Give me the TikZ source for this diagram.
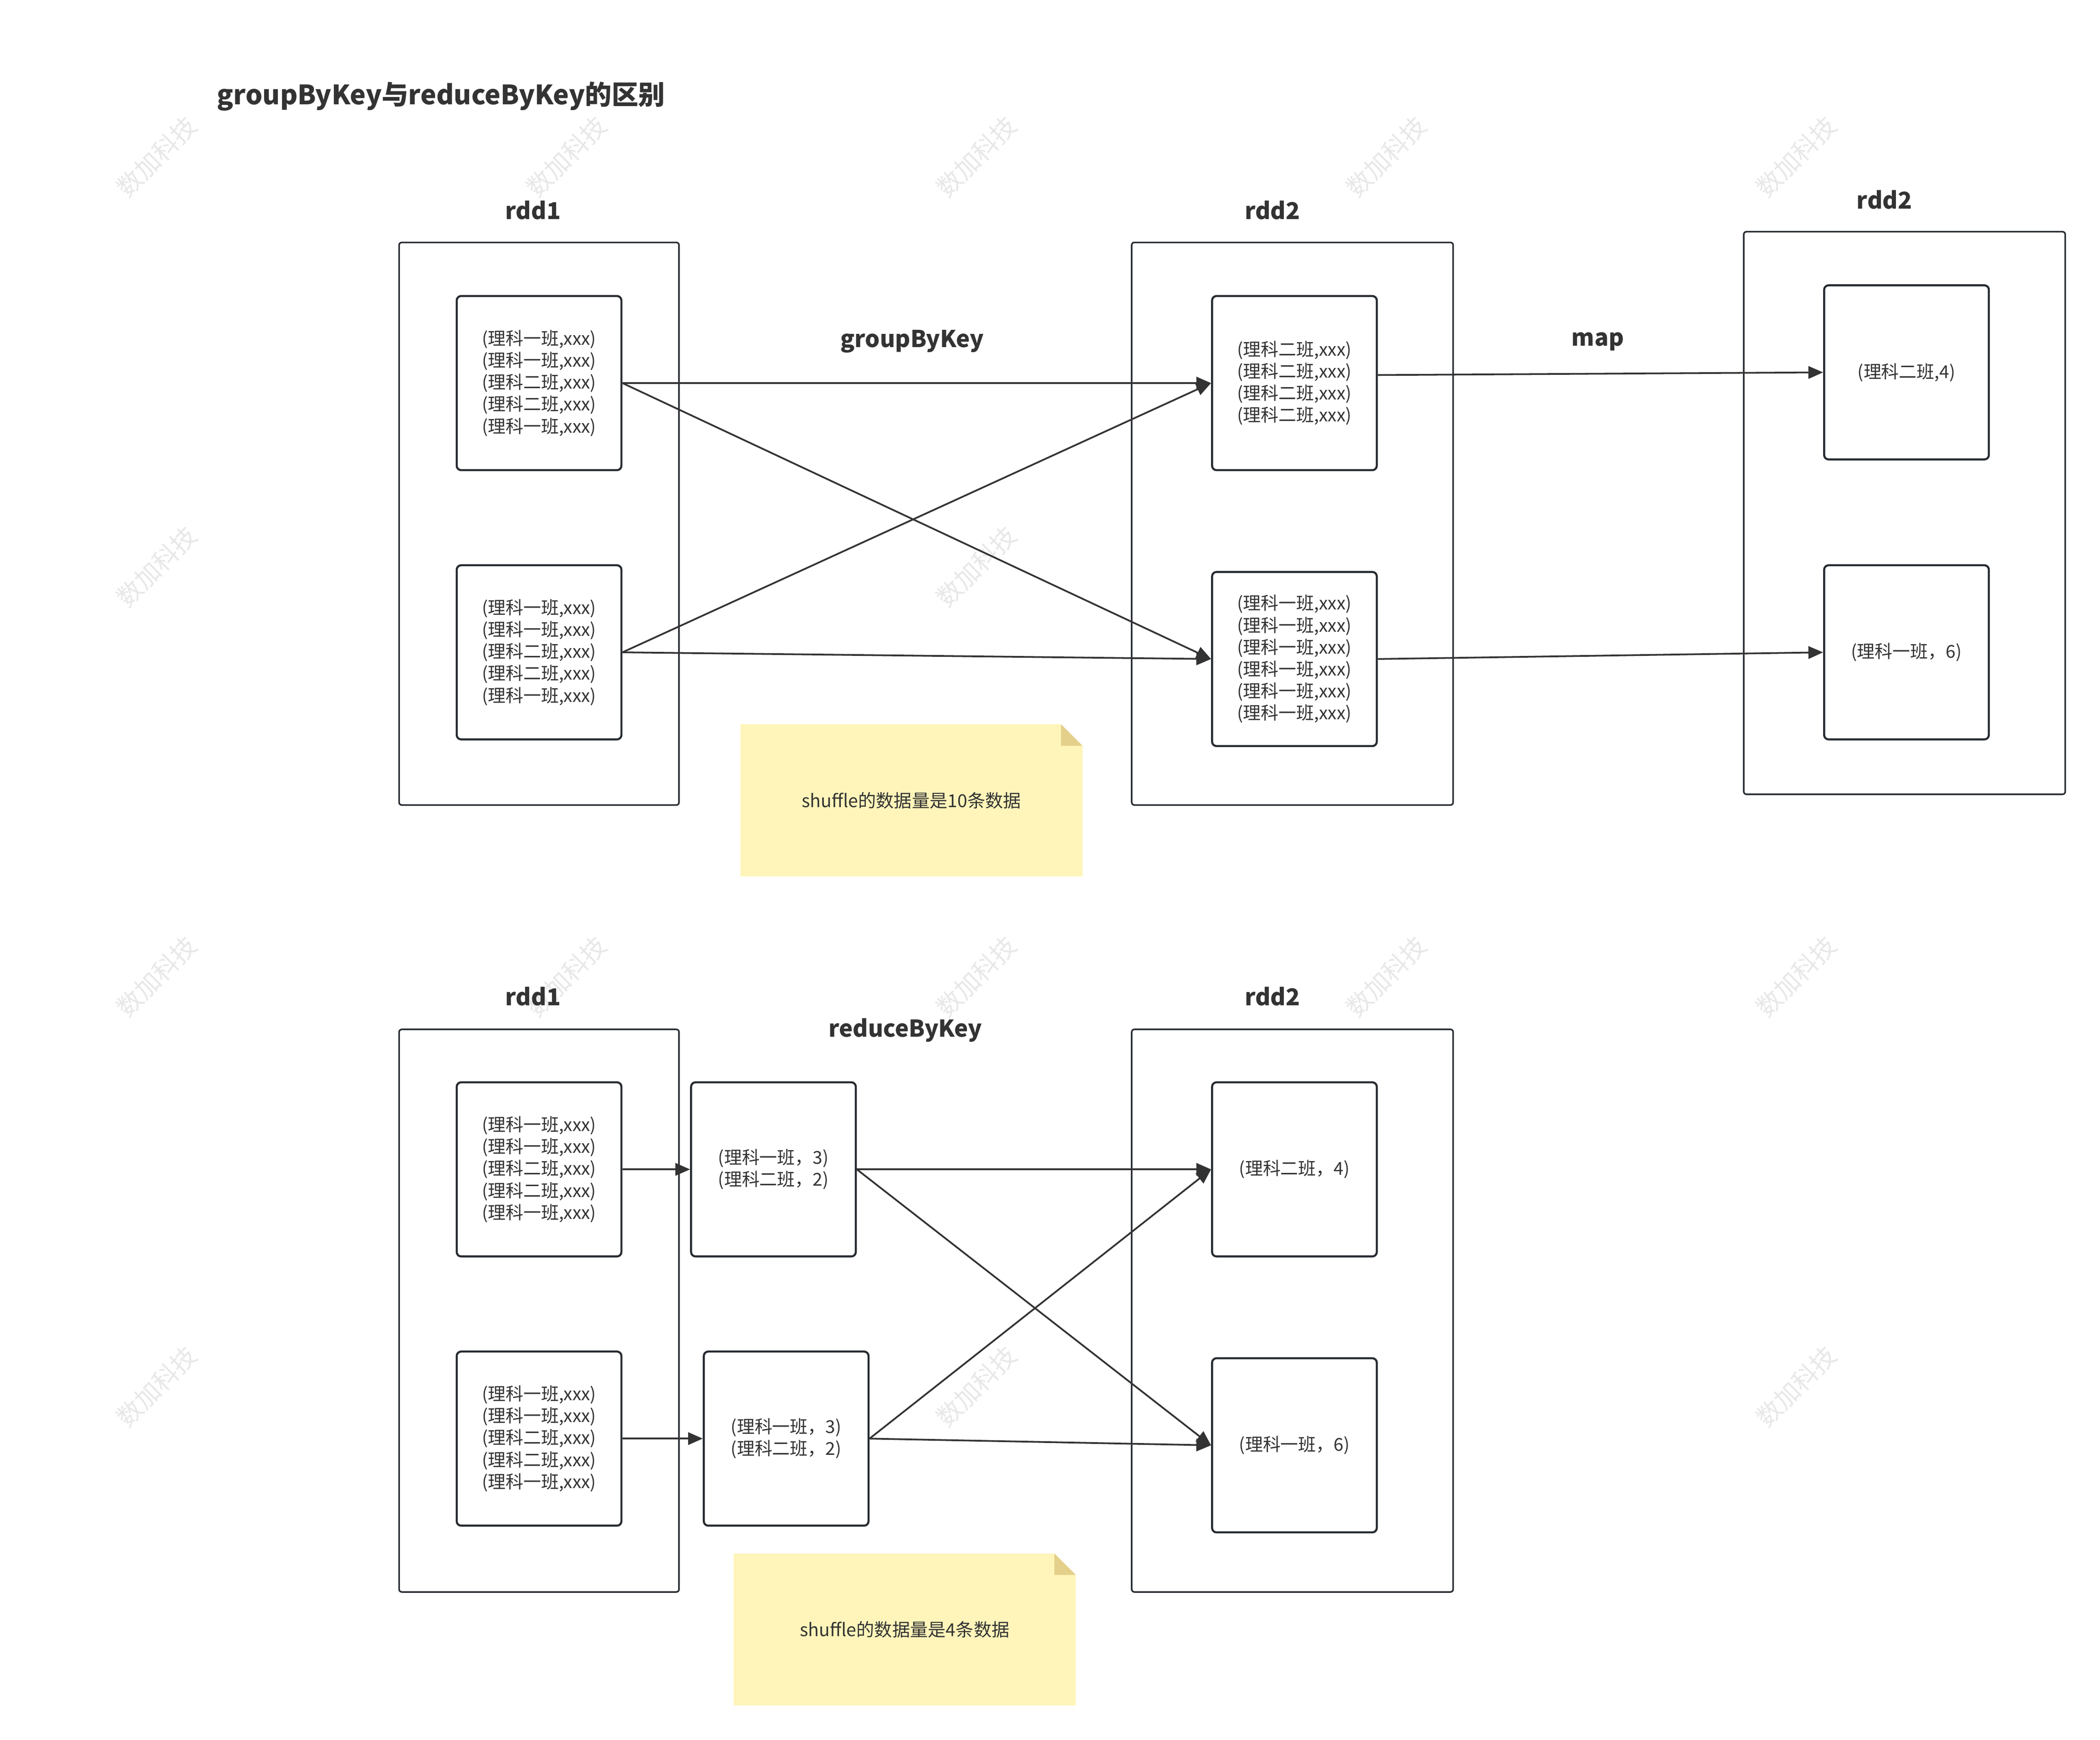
\documentclass[tikz,border=0pt]{standalone}
\usepackage{fontspec}
\setmainfont{Noto Sans CJK SC}
\usetikzlibrary{arrows.meta,backgrounds}
\definecolor{boxline}{HTML}{262B31}
\definecolor{inkgray}{HTML}{333333}
\definecolor{notefill}{HTML}{FFF5BA}
\definecolor{notefold}{HTML}{E4D08B}
\definecolor{wmgray}{HTML}{E8E8E8}
\begin{document}
\begin{tikzpicture}[x=0.3mm, y=-0.3mm,
  wmark/.style={rotate=45, text=wmgray, font=\fontsize{16}{16}\selectfont},
  outerbox/.style={draw=boxline, line width=1pt, rounded corners=0.6mm, fill=white, inner sep=0, minimum width=#1*0.3mm, minimum height=420*0.3mm},
  innerbox/.style={draw=boxline, line width=1.3pt, rounded corners=1mm, fill=white, inner sep=0, minimum width=123*0.3mm, minimum height=130*0.3mm, align=center, text=inkgray, font=\fontsize{11.3}{14}\selectfont},
  heading/.style={text=inkgray, font=\bfseries\fontsize{14.8}{18}\selectfont},
  notebox/.style={inner sep=0, minimum width=255*0.3mm, minimum height=113*0.3mm, text=inkgray, font=\fontsize{11.4}{14}\selectfont},
  arr/.style={draw=inkgray, line width=1.1pt, -{Triangle[length=3.3mm, width=2.8mm]}}]
\useasboundingbox (0,0) rectangle (1568,1299);
% watermark
\node[wmark] (wm1) at (117,117){数加科技};
\node[wmark] (wm2) at (423,117){数加科技};
\node[wmark] (wm3) at (729,117){数加科技};
\node[wmark] (wm4) at (1035,117){数加科技};
\node[wmark] (wm5) at (1341,117){数加科技};
\node[wmark] (wm6) at (117,423){数加科技};
\node[wmark] (wm7) at (729,423){数加科技};
\node[wmark] (wm8) at (117,729){数加科技};
\node[wmark] (wm9) at (423,729){数加科技};
\node[wmark] (wm10) at (729,729){数加科技};
\node[wmark] (wm11) at (1035,729){数加科技};
\node[wmark] (wm12) at (1341,729){数加科技};
\node[wmark] (wm13) at (117,1035){数加科技};
\node[wmark] (wm14) at (729,1035){数加科技};
\node[wmark] (wm15) at (1341,1035){数加科技};
\node[anchor=west, text=inkgray, font=\bfseries\fontsize{17}{21}\selectfont] (title) at (158,72){groupByKey与reduceByKey的区别};
% groupByKey
\node[heading] (gkl1) at (398,157){rdd1};
\node[heading] (gkl2) at (950,157){rdd2};
\node[heading] (gkl3) at (1407,149){rdd2};
\node[heading] (gkop1) at (681,255){groupByKey};
\node[heading] (gkop2) at (1193,255){map};
\node[outerbox=209] (gkrdd1) at (402.5,391){};
\node[outerbox=240] (gkrdd2) at (965,391){};
\node[outerbox=240] (gkrdd3) at (1422,383){};
\node[innerbox] (gkin1) at (402.5,286){(理科一班,xxx)\\(理科一班,xxx)\\(理科二班,xxx)\\(理科二班,xxx)\\(理科一班,xxx)};
\node[innerbox] (gkin2) at (402.5,487){(理科一班,xxx)\\(理科一班,xxx)\\(理科二班,xxx)\\(理科二班,xxx)\\(理科一班,xxx)};
\node[innerbox] (gkout1) at (966.5,286){(理科二班,xxx)\\(理科二班,xxx)\\(理科二班,xxx)\\(理科二班,xxx)};
\node[innerbox] (gkout2) at (966.5,492){(理科一班,xxx)\\(理科一班,xxx)\\(理科一班,xxx)\\(理科一班,xxx)\\(理科一班,xxx)\\(理科一班,xxx)};
\node[innerbox] (gkmap1) at (1423.5,278){(理科二班,4)};
\node[innerbox] (gkmap2) at (1423.5,487){(理科一班，6)};
\draw[arr](gkin1.east) -- (gkout1.west);
\draw[arr](gkin1.east) -- (gkout2.west);
\draw[arr](gkin2.east) -- (gkout1.west);
\draw[arr](gkin2.east) -- (gkout2.west);
\draw[arr]([yshift=1.8mm]gkout1.east) -- (gkmap1.west);
\draw[arr](gkout2.east) -- (gkmap2.west);
\node[notebox] (gknote) at (680.5,597.5){shuffle的数据量是10条数据};
% reduceByKey
\node[heading] (rkl1) at (398,744){rdd1};
\node[heading] (rkl2) at (950,744){rdd2};
\node[heading] (rkop1) at (676,769){reduceByKey};
\node[outerbox=209] (rkrdd1) at (402.5,978.5){};
\node[outerbox=240] (rkrdd2) at (965,978.5){};
\node[innerbox] (rkin1) at (402.5,873){(理科一班,xxx)\\(理科一班,xxx)\\(理科二班,xxx)\\(理科二班,xxx)\\(理科一班,xxx)};
\node[innerbox] (rkin2) at (402.5,1074){(理科一班,xxx)\\(理科一班,xxx)\\(理科二班,xxx)\\(理科二班,xxx)\\(理科一班,xxx)};
\node[innerbox] (rkcomb1) at (577.5,873){(理科一班，3)\\(理科二班，2)};
\node[innerbox] (rkcomb2) at (587,1074){(理科一班，3)\\(理科二班，2)};
\node[innerbox] (rkout1) at (966.5,873){(理科二班，4)};
\node[innerbox] (rkout2) at (966.5,1079){(理科一班，6)};
\draw[arr](rkin1.east) -- (rkcomb1.west);
\draw[arr](rkin2.east) -- (rkcomb2.west);
\draw[arr](rkcomb1.east) -- (rkout1.west);
\draw[arr](rkcomb1.east) -- (rkout2.west);
\draw[arr](rkcomb2.east) -- (rkout1.west);
\draw[arr](rkcomb2.east) -- (rkout2.west);
\node[notebox] (rknote) at (675.5,1216.5){shuffle的数据量是4条数据};
% note paper
\begin{scope}[on background layer]
\fill[notefill] (gknote.south west) -- (gknote.north west) -- ([xshift=-4.8mm]gknote.north east) -- ([yshift=-4.8mm]gknote.north east) -- (gknote.south east) -- cycle;
\fill[notefold] ([xshift=-4.8mm]gknote.north east) -- ([xshift=-4.8mm,yshift=-4.8mm]gknote.north east) -- ([yshift=-4.8mm]gknote.north east) -- cycle;
\fill[notefill] (rknote.south west) -- (rknote.north west) -- ([xshift=-4.8mm]rknote.north east) -- ([yshift=-4.8mm]rknote.north east) -- (rknote.south east) -- cycle;
\fill[notefold] ([xshift=-4.8mm]rknote.north east) -- ([xshift=-4.8mm,yshift=-4.8mm]rknote.north east) -- ([yshift=-4.8mm]rknote.north east) -- cycle;
\end{scope}
\end{tikzpicture}
\end{document}
